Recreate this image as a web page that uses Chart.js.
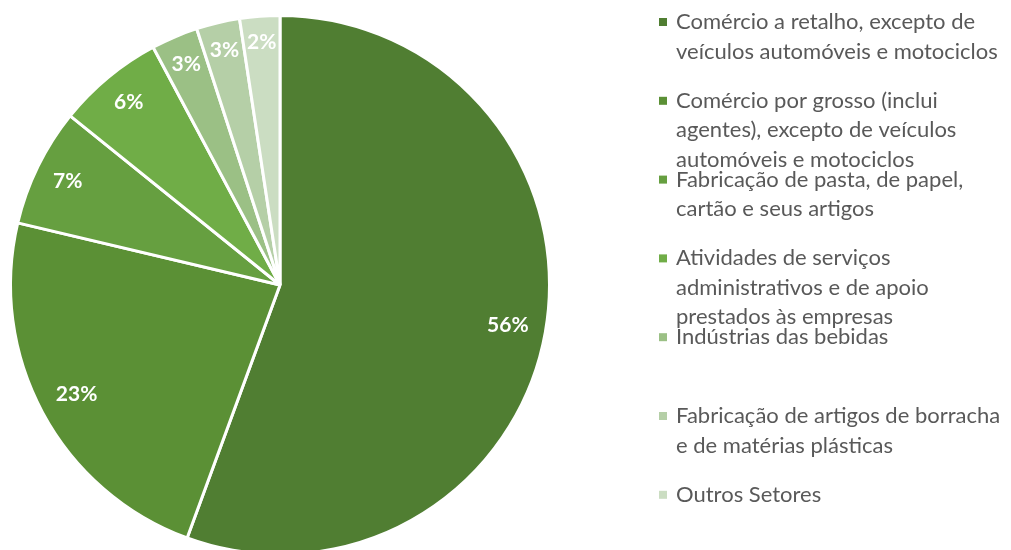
<!DOCTYPE html>
<html>
<head>
<meta charset="utf-8">
<script src="https://cdn.jsdelivr.net/npm/chart.js@4"></script>
<style>
  html, body { margin: 0; padding: 0; background: #fff; overflow: hidden; }
  #wrap { position: absolute; left: 0; top: 0; width: 1011px; height: 570px; }
</style>
</head>
<body>
<div id="wrap"><canvas id="grafico"></canvas></div>
<script>
const setores = [
    ["Comércio a retalho, excepto de", "veículos automóveis e motociclos"],
    ["Comércio por grosso (inclui", "agentes), excepto de veículos", "automóveis e motociclos"],
    ["Fabricação de pasta, de papel,", "cartão e seus artigos"],
    ["Atividades de serviços", "administrativos e de apoio", "prestados às empresas"],
    ["Indústrias das bebidas"],
    ["Fabricação de artigos de borracha", "e de matérias plásticas"],
    ["Outros Setores"]
]
const percentagens = [55.6, 23.1, 7.1, 6.4, 2.8, 2.6, 2.4]
const cores = ["#507e32", "#5b9035", "#669f40", "#70ad47", "#9bc085", "#b5cfa7", "#cbddc2"]

const FONTE = "Lato, 'Open Sans', sans-serif"

const rotulosFatias = {
    id: "rotulosFatias",
    afterDatasetsDraw(chart) {
        const ctx = chart.ctx
        const meta = chart.getDatasetMeta(0)
        const total = percentagens.reduce((a, b) => a + b, 0)
        ctx.save()
        ctx.font = "bold 21px " + FONTE
        ctx.fillStyle = "#ffffff"
        ctx.textAlign = "center"
        ctx.textBaseline = "middle"
        meta.data.forEach((arco, i) => {
            const texto = Math.round(percentagens[i] / total * 100) + "%"
            const meio = (arco.startAngle + arco.endAngle) / 2
            const w = ctx.measureText(texto).width
            const h = 18
            const ext = Math.abs(Math.cos(meio)) * w / 2 + Math.abs(Math.sin(meio)) * h / 2
            const r = arco.outerRadius - 16 - ext
            ctx.fillText(texto, arco.x + Math.cos(meio) * r, arco.y + Math.sin(meio) * r)
        })
        ctx.restore()
    }
}

const legenda = {
    id: "legenda",
    afterDraw(chart) {
        const ctx = chart.ctx
        ctx.save()
        ctx.font = "22px " + FONTE
        ctx.textBaseline = "middle"
        ctx.textAlign = "left"
        setores.forEach((linhas, i) => {
            const y0 = 22 + i * 78.8
            ctx.fillStyle = cores[i]
            ctx.fillRect(659, y0 - 4, 8, 8)
            ctx.fillStyle = "#595959"
            linhas.forEach((linha, j) => {
                ctx.fillText(linha, 676, y0 + j * 29.5)
            })
        })
        ctx.restore()
    }
}

new Chart(document.getElementById("grafico"), {
    type: "pie",
    data: {
        labels: setores,
        datasets: [{
            data: percentagens,
            backgroundColor: cores,
            borderColor: "#ffffff",
            borderWidth: 3,
            hoverOffset: 0,
            offset: 0
        }]
    },
    options: {
        responsive: true,
        maintainAspectRatio: false,
        animation: false,
        layout: { padding: { left: 9, top: 14, right: 460, bottom: 14 } },
        plugins: {
            legend: { display: false },
            tooltip: { enabled: false }
        }
    },
    plugins: [rotulosFatias, legenda]
})
</script>
</body>
</html>
